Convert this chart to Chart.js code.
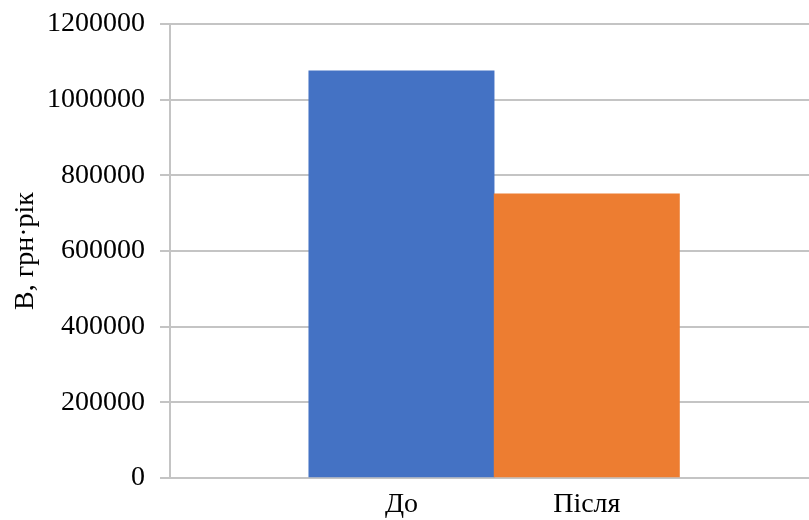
<!DOCTYPE html>
<html>
<head>
<meta charset="utf-8">
<script src="https://cdn.jsdelivr.net/npm/chart.js@4"></script>
<style>
  html, body { margin: 0; padding: 0; background: #fff; }
  #wrap { width: 809px; height: 520px; }
</style>
</head>
<body>
<div id="wrap"><canvas id="barChart"></canvas></div>
<script>
var categories = ['До', 'Після'];
var values = [1076000, 751000];
var barColors = ['#4472c4', '#ed7d31'];
var yTicks = [0, 200000, 400000, 600000, 800000, 1000000, 1200000];
var yTitle = 'В, грн·рік';

var serif = "'Liberation Serif', 'Times New Roman', serif";
var gridGray = '#c4c4c4';

// bars sit on a linear x scale so they can be placed off-centre like the original
var points = [];
for (var a = 0; a < categories.length; a++) {
	points.push({ x: a + 1, y: values[a] });
}

var ctx = document.getElementById('barChart').getContext('2d');
var barChart = new Chart(ctx, {
	type: 'bar',
	data: {
		datasets: [{
			data: points,
			backgroundColor: barColors,
			borderWidth: 0,
			barPercentage: 1,
			categoryPercentage: 1
		}]
	},
	options: {
		responsive: true,
		maintainAspectRatio: false,
		animation: false,
		layout: { padding: { top: 24, right: 0, bottom: 0, left: 0 } },
		plugins: {
			legend: { display: false },
			tooltip: { enabled: false }
		},
		scales: {
			x: {
				type: 'linear',
				offset: false,
				min: -0.249,
				max: 3.199,
				grid: { display: false, drawTicks: false },
				border: { display: false },
				afterBuildTicks: function(scale) {
					scale.ticks = categories.map(function(c, i) { return { value: i + 1 }; });
				},
				afterFit: function(scale) { scale.height = 42; },
				ticks: {
					autoSkip: false,
					maxRotation: 0,
					padding: 10,
					color: '#000',
					font: { family: serif, size: 28 },
					callback: function(v) { return categories[v - 1]; }
				}
			},
			y: {
				min: yTicks[0],
				max: yTicks[yTicks.length - 1],
				afterBuildTicks: function(scale) {
					scale.ticks = yTicks.map(function(v) { return { value: v }; });
				},
				afterFit: function(scale) {
					scale.width = 170;
					scale.paddingTop = 0;
					scale.paddingBottom = 0;
				},
				grid: { color: gridGray, lineWidth: 2, tickLength: 10 },
				border: { color: gridGray, width: 2 },
				ticks: {
					padding: 15,
					color: '#000',
					font: { family: serif, size: 28 },
					callback: function(v) { return String(v); }
				},
				title: {
					display: true,
					text: yTitle,
					color: '#000',
					font: { family: serif, size: 28 },
					padding: { top: 9, bottom: 0 }
				}
			}
		}
	}
});
</script>
</body>
</html>
